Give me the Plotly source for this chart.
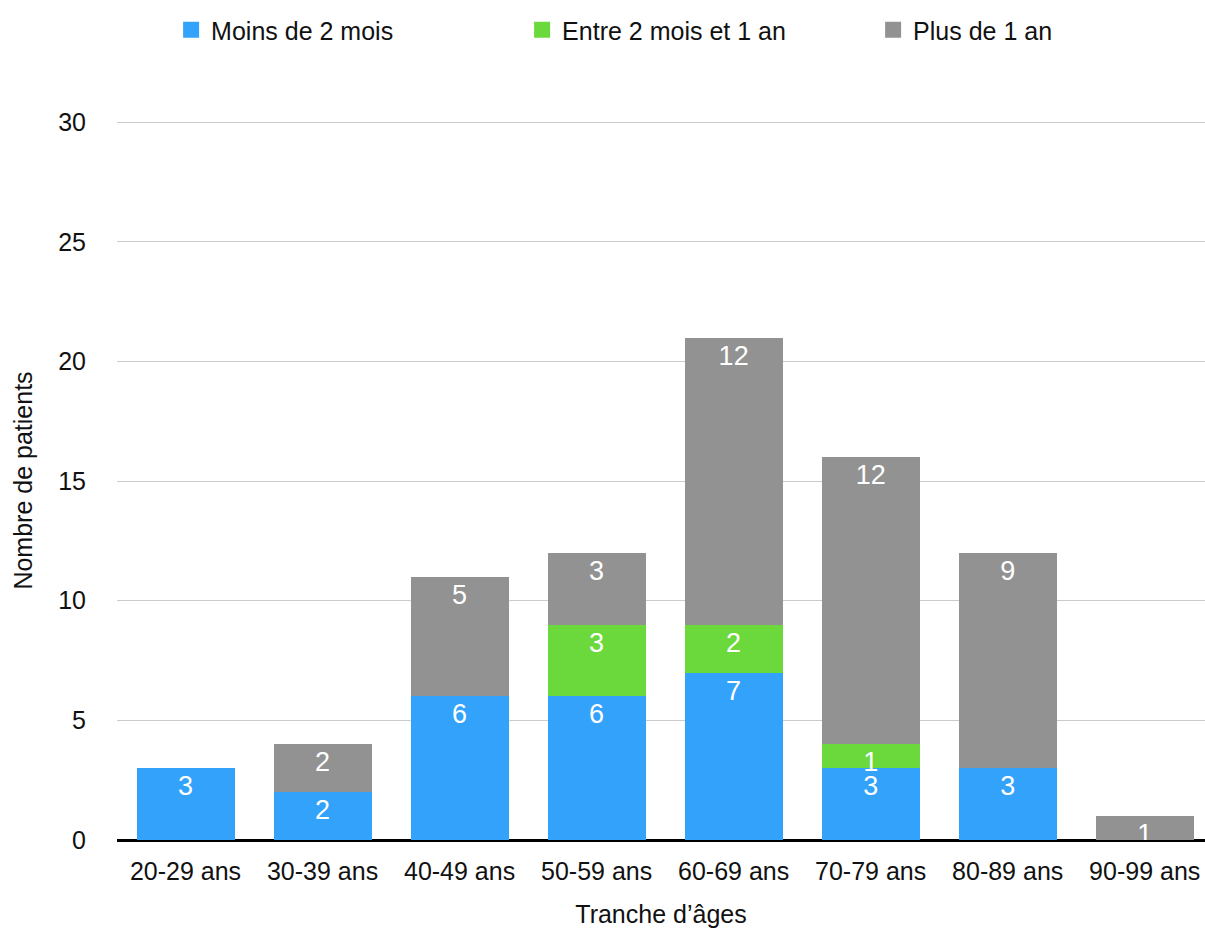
import plotly.graph_objects as go

categories = ["20-29 ans", "30-39 ans", "40-49 ans", "50-59 ans", "60-69 ans",
              "70-79 ans", "80-89 ans", "90-99 ans"]
moins_2_mois = [3, 2, 6, 6, 7, 3, 3, 0]
entre_2_mois_1_an = [0, 0, 0, 3, 2, 1, 0, 0]
plus_1_an = [0, 2, 5, 3, 12, 12, 9, 1]

series = [
    ("Moins de 2 mois", moins_2_mois, "#33A2FA"),
    ("Entre 2 mois et 1 an", entre_2_mois_1_an, "#6BD93B"),
    ("Plus de 1 an", plus_1_an, "#929292"),
]

font_family = "Liberation Sans, Arial, Helvetica, sans-serif"

fig = go.Figure()
for name, vals, color in series:
    fig.add_trace(go.Bar(
        x=categories, y=vals, name=name, legendgroup=name, showlegend=False,
        marker=dict(color=color, line=dict(width=0)),
        text=[str(v) if v else "" for v in vals],
        textposition="inside", insidetextanchor="end", textangle=0,
        textfont=dict(color="white", size=27, family=font_family),
        hoverinfo="x+y+name",
    ))
# legend entries with large square swatches
for name, vals, color in series:
    fig.add_trace(go.Scatter(
        x=[None], y=[None], mode="markers", name=name, legendgroup=name,
        marker=dict(symbol="square", size=22, color=color),
        hoverinfo="skip",
    ))

fig.update_layout(
    barmode="stack",
    bargap=0.285,
    width=1205, height=928,
    margin=dict(l=117, r=0, t=121, b=88, autoexpand=False),
    paper_bgcolor="white", plot_bgcolor="white",
    font=dict(family=font_family, size=25, color="#111111"),
    uniformtext=dict(mode="show", minsize=27),
    legend=dict(orientation="h", traceorder="normal",
                x=0.142, xanchor="left", xref="container",
                y=1 - 30 / 928, yanchor="middle", yref="container",
                font=dict(size=25), itemwidth=30,
                entrywidth=306, entrywidthmode="pixels"),
    xaxis=dict(showgrid=False, showline=True, linecolor="black", linewidth=2,
               ticks="", tickfont=dict(size=25), ticklabelstandoff=8,
               range=[-0.5, 7.44], automargin=False,
               title=dict(text="Tranche d’âges", font=dict(size=25), standoff=22)),
    yaxis=dict(range=[0, 30.05], tickvals=[0, 5, 10, 15, 20, 25, 30],
               showgrid=True, gridcolor="#CBCBCB", gridwidth=1,
               zeroline=True, zerolinecolor="black", zerolinewidth=2,
               ticks="", ticklabelstandoff=30, tickfont=dict(size=25), automargin=False,
               title=dict(text="Nombre de patients", font=dict(size=25), standoff=18)),
)

fig.write_html("out.html", config={"displayModeBar": False},
               post_script="document.body.style.margin='0';")
